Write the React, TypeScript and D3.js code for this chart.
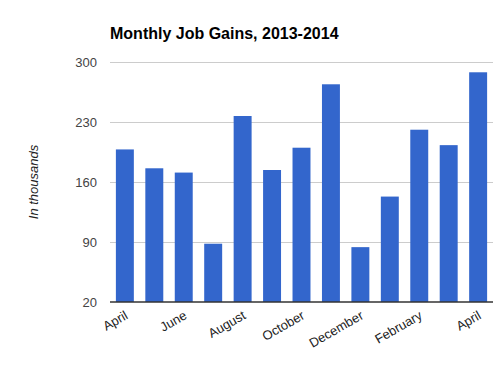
import { useEffect, useRef } from "react";
import * as d3 from "d3";

const months = [
  "April", "May", "June", "July", "August", "September", "October",
  "November", "December", "January", "February", "March", "April ",
];
const jobGains = [198, 176, 171, 88, 237, 174, 200, 274, 84, 143, 221, 203, 288];
const yTicks = [20, 90, 160, 230, 300];

const App = () => {
  const svgRef = useRef<SVGSVGElement | null>(null);

  useEffect(() => {
    document.body.style.margin = "0";
    const width = 495;
    const height = 367;
    const margin = { top: 62, right: 2, bottom: 65, left: 110 };

    const xScale = d3
      .scaleBand()
      .domain(months)
      .range([margin.left, width - margin.right])
      .paddingInner(0.39)
      .paddingOuter(0.2);

    const yScale = d3
      .scaleLinear()
      .domain([20, 300])
      .range([height - margin.bottom, margin.top]);

    const svg = d3.select(svgRef.current);
    svg.selectAll("*").remove();

    // gridlines
    svg
      .append("g")
      .selectAll("line")
      .data(yTicks.slice(1))
      .join("line")
      .attr("x1", margin.left)
      .attr("x2", width - margin.right)
      .attr("y1", (d) => Math.round(yScale(d)) + 0.5)
      .attr("y2", (d) => Math.round(yScale(d)) + 0.5)
      .attr("stroke", "#cccccc")
      .attr("stroke-width", 1);

    // y tick labels
    svg
      .append("g")
      .selectAll("text")
      .data(yTicks)
      .join("text")
      .attr("x", 97)
      .attr("y", (d) => yScale(d) + 5)
      .attr("text-anchor", "end")
      .attr("font-family", "Liberation Sans, Arial, sans-serif")
      .attr("font-size", 13)
      .attr("fill", "#444444")
      .text((d) => d);

    // bars
    svg
      .append("g")
      .selectAll("rect")
      .data(jobGains)
      .join("rect")
      .attr("x", (_, i) => xScale(months[i]) || 0)
      .attr("y", (d) => yScale(d))
      .attr("width", xScale.bandwidth())
      .attr("height", (d) => yScale(20) - yScale(d))
      .attr("fill", "#3366cc");

    // baseline
    svg
      .append("line")
      .attr("x1", margin.left)
      .attr("x2", width - margin.right)
      .attr("y1", yScale(20))
      .attr("y2", yScale(20))
      .attr("stroke", "#333333")
      .attr("stroke-width", 1.5);

    // x labels, every other month
    svg
      .append("g")
      .selectAll("text")
      .data(months.filter((_, i) => i % 2 === 0))
      .join("text")
      .attr("text-anchor", "end")
      .attr(
        "transform",
        (d) =>
          `translate(${(xScale(d) || 0) + xScale.bandwidth() / 2 + 4},${
            yScale(20) + 16
          }) rotate(-30)`
      )
      .attr("font-family", "Liberation Sans, Arial, sans-serif")
      .attr("font-size", 13)
      .attr("fill", "#222222")
      .text((d) => d.trim());

    // title
    svg
      .append("text")
      .attr("x", margin.left)
      .attr("y", 39)
      .attr("font-family", "Liberation Sans, Arial, sans-serif")
      .attr("font-size", 16)
      .attr("font-weight", "bold")
      .attr("fill", "#000000")
      .text("Monthly Job Gains, 2013-2014");

    // y axis title
    svg
      .append("text")
      .attr("transform", `translate(38,${(yScale(20) + yScale(300)) / 2}) rotate(-90)`)
      .attr("text-anchor", "middle")
      .attr("font-family", "Liberation Sans, Arial, sans-serif")
      .attr("font-size", 13)
      .attr("font-style", "italic")
      .attr("fill", "#222222")
      .text("In thousands");
  }, []);

  return <svg ref={svgRef} width={495} height={367} style={{ display: "block" }} />;
};

export default App;
